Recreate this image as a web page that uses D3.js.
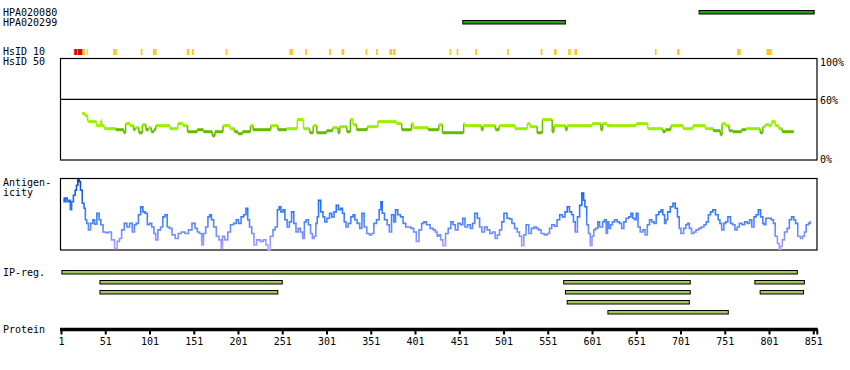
<!DOCTYPE html>
<html><head><meta charset="utf-8">
<script src="https://cdn.jsdelivr.net/npm/d3@7"></script>
<style>body{margin:0;background:#fff}svg{display:block}text{font-family:"DejaVu Sans Mono",monospace;font-size:10px;fill:#000}</style>
</head><body>
<script>
// ---------- DATA ----------
const proteinLength = 855;
const tickLabels = [1,51,101,151,201,251,301,351,401,451,501,551,601,651,701,751,801,851];
const antibodies = ["HPA020080","HPA020299"];
const antibodyRanges = [[722,852],[455,571]];
const hsYellow = [[15,16],[19,20],[25,28],[30,31],[60,64],[91,93],[105,109],[143,146],[149,151],[187,189],[259,263],[277,279],[304,306],[318,321],[345,347],[357,359],[372,375],[376,379],[440,442],[448,450],[469,471],[505,507],[543,545],[558,561],[574,577],[581,584],[672,674],[697,700],[765,769],[798,804]];
const hsRed = [[16,19],[20,25]];
const identityPos = [25,28,31,32,41,46,47,50,63,72,74,79,83,85,89,93,97,100,103,106,108,124,133,139,144,155,162,172,175,184,192,197,201,206,215,218,238,246,256,268,275,282,286,290,301,308,314,316,324,328,331,335,347,359,380,386,397,399,416,428,432,456,457,476,478,492,496,514,528,531,539,545,556,558,571,573,601,611,613,618,651,664,681,684,690,704,715,729,738,746,748,752,756,760,770,775,791,794,797,801,804,808,812,816];
const identityVal = [46,44,39,38,34,39,34,31,30,27,36,34,30,32,27,35,30,32,28,30,34,31,36,34,28,30,28,24,28,34,31,28,26,28,34,30,34,30,31,40,31,27,34,27,29,32,27,33,28,40,35,30,33,38,36,30,36,32,30,35,27,36,34,30,34,30,34,31,36,33,27,40,28,34,30,34,36,30,36,34,36,31,28,30,34,31,34,31,29,25,36,34,29,28,30,31,27,33,35,34,38,34,31,28];
const identityEnd = 829;
const antiPos = [4,5,7,9,11,12,14,16,18,19,21,22,24,26,28,29,31,33,36,38,40,43,45,47,50,53,56,60,63,66,68,71,74,77,80,83,85,87,90,92,95,97,100,102,105,107,109,112,115,117,120,122,125,128,132,135,139,143,147,151,154,156,159,161,163,166,168,170,172,175,178,181,183,184,188,191,194,198,200,203,206,209,211,213,215,218,220,224,228,231,234,236,239,242,244,247,248,251,253,255,258,260,263,265,268,270,
273,275,277,279,282,284,286,288,290,291,293,296,298,300,303,306,308,311,313,316,318,320,322,324,327,330,332,334,337,340,342,345,348,351,353,356,359,362,363,365,368,371,373,376,378,380,383,386,389,392,395,398,401,404,407,410,412,416,420,423,425,427,429,431,434,437,440,443,445,448,451,454,456,459,462,465,467,470,473,475,478,481,484,487,490,493,495,498,500,503,507,509,512,515,518,520,523,525,528,531,534,537,539,542,545,549,552,554,557,560,563,566,569,572,574,577,579,581,583,586,588,591,592,594,596,598,600,602,604,606,609,
610,612,614,616,618,619,621,623,625,628,631,633,636,638,641,644,646,648,650,652,654,657,660,662,665,667,670,672,675,678,680,682,684,685,688,691,694,696,699,700,703,706,708,710,712,715,717,720,723,726,729,731,734,736,739,742,745,746,749,751,753,756,759,761,764,766,769,772,775,778,780,783,785,788,790,793,795,796,799,802,805,807,809,812,813,815,817,820,823,825,828,830,832,835,838,840,842,844,847,848];
const antiVal = [72,67,72,67,69,56,67,76,83,90,98,95,83,65,58,42,37,28,37,42,36,51,42,35,25,24,25,14,2,12,16,28,37,32,37,25,35,37,49,60,53,51,35,37,32,23,14,28,32,46,49,32,30,21,16,23,25,23,28,37,30,25,23,7,23,32,46,49,42,32,19,14,2,19,14,25,35,37,42,37,46,49,58,42,32,23,7,14,12,14,7,0,19,28,32,56,60,53,56,42,32,39,53,37,25,30,
25,16,39,42,35,23,16,19,37,46,69,53,46,39,44,51,46,53,62,56,58,51,39,32,37,46,49,42,37,30,51,32,23,21,23,37,42,56,67,51,42,35,25,49,39,56,49,46,37,32,32,30,25,12,28,37,39,35,30,28,25,19,21,14,6,23,30,39,35,28,37,35,44,32,35,30,37,51,44,32,25,32,28,23,25,16,21,28,39,51,44,43,37,30,25,19,6,21,35,23,30,32,30,28,23,21,23,30,35,33,42,49,46,53,60,53,49,39,25,46,62,79,69,60,35,23,6,19,28,30,39,32,
32,39,42,23,39,30,35,39,42,39,37,30,39,44,46,51,44,42,51,32,25,28,21,35,42,39,37,49,53,56,49,37,42,53,60,65,58,46,30,23,30,35,37,30,23,25,28,30,32,35,39,49,53,56,49,42,37,28,37,39,46,37,35,28,32,37,35,39,37,42,32,46,49,56,46,37,35,44,44,42,37,19,9,1,5,14,25,30,42,46,42,37,19,16,19,25,35,37,39,44];
const ipRows = [
  [[2,833]],
  [[45,251],[569,712],[785,841]],
  [[45,246],[571,712],[791,840]],
  [[573,711]],
  [[619,755]]
];

// ---------- CHART ----------
const W = 850, H = 370;
const svg = d3.select("body").append("svg").attr("width", W).attr("height", H);
const x = d3.scaleLinear().domain([1, proteinLength]).range([61, 816.8]);
const yId = d3.scaleLinear().domain([0, 100]).range([160, 59]);
const yAg = d3.scaleLinear().domain([0, 100]).range([250, 178]);

// labels
const lab = (t, px, py, anchor) => svg.append("text").attr("x", px).attr("y", py).attr("text-anchor", anchor || "start").text(t);
antibodies.forEach((a, i) => lab(a, 3, 16 + i * 10));
lab("HsID 10", 3, 55); lab("HsID 50", 3, 65);
lab("Antigen-", 3, 186); lab("icity", 3, 196);
lab("IP-reg.", 3, 276); lab("Protein", 3, 333);
lab("100%", 820, 66); lab("60%", 820, 104); lab("0%", 820, 163);

// antibody bars
svg.selectAll("rect.ab").data(antibodyRanges).join("rect").attr("class", "ab")
  .attr("x", d => x(d[0])).attr("width", d => x(d[1]) - x(d[0]))
  .attr("y", (d, i) => 10.5 + i * 10).attr("height", 3.5)
  .attr("fill", "#22a010").attr("stroke", "#000").attr("stroke-width", 1);

// HsID 10 segments
svg.selectAll("rect.hy").data(hsYellow).join("rect").attr("class", "hy")
  .attr("x", d => x(d[0])).attr("width", d => Math.max(1, x(d[1]) - x(d[0])))
  .attr("y", 49).attr("height", 6).attr("fill", "#ffc820");
svg.selectAll("rect.hr").data(hsRed).join("rect").attr("class", "hr")
  .attr("x", d => x(d[0])).attr("width", d => x(d[1]) - x(d[0]))
  .attr("y", 49).attr("height", 6).attr("fill", "#e00000");

// identity box
const boxL = 60.5, boxR = 817;
svg.append("rect").attr("x", boxL).attr("y", 58.5).attr("width", boxR - boxL).attr("height", 101.5)
  .attr("fill", "none").attr("stroke", "#000").attr("stroke-width", 1.2);
svg.append("line").attr("x1", boxL).attr("x2", boxR).attr("y1", yId(60)).attr("y2", yId(60))
  .attr("stroke", "#000").attr("stroke-width", 1.2);

// identity line (step)
const idColor = v => v < 30.5 ? "#66bb00" : "#99f000";
const stepLine = d3.line().x(d => x(d[0])).y(d => yId(d[1])).curve(d3.curveStepAfter);
identityPos.forEach((p, i) => {
  const nextP = i < identityPos.length - 1 ? identityPos[i + 1] : identityEnd;
  const pts = [[p, identityVal[i]], [nextP, identityVal[i]]];
  svg.append("path").attr("d", stepLine(pts)).attr("fill", "none")
    .attr("stroke", idColor(identityVal[i])).attr("stroke-width", 3);
  if (i < identityPos.length - 1) {
    svg.append("path").attr("d", d3.line()([[x(nextP), yId(identityVal[i])], [x(nextP), yId(identityVal[i + 1])]]))
      .attr("stroke", idColor(Math.min(identityVal[i], identityVal[i + 1]))).attr("stroke-width", 1.5);
  }
});

// antigenicity box
svg.append("rect").attr("x", boxL).attr("y", 178.5).attr("width", boxR - boxL).attr("height", 71.5)
  .attr("fill", "none").attr("stroke", "#000").attr("stroke-width", 1.2);
const defs = svg.append("defs");
const grad = defs.append("linearGradient").attr("id", "ag").attr("gradientUnits", "userSpaceOnUse")
  .attr("x1", 0).attr("x2", 0).attr("y1", yAg(100)).attr("y2", yAg(0));
[["0%", "#0a44c0"], ["30%", "#1a6cf8"], ["55%", "#3f80ff"], ["80%", "#7a90ff"], ["100%", "#b4a4ff"]]
  .forEach(s => grad.append("stop").attr("offset", s[0]).attr("stop-color", s[1]));
const agData = antiPos.map((p, i) => [p, antiVal[i]]);
svg.append("path").datum(agData)
  .attr("d", d3.line().x(d => x(d[0])).y(d => yAg(d[1])).curve(d3.curveStep))
  .attr("fill", "none").attr("stroke", "url(#ag)").attr("stroke-width", 1.6);

// IP-reg bars
ipRows.forEach((row, ri) => {
  svg.selectAll("rect.ip" + ri).data(row).join("rect").attr("class", "ip" + ri)
    .attr("x", d => x(d[0])).attr("width", d => x(d[1]) - x(d[0]))
    .attr("y", 270.5 + ri * 10).attr("height", 3.5)
    .attr("fill", "#a2c85c").attr("stroke", "#000").attr("stroke-width", 1);
});

// protein axis
const axisG = svg.append("g").attr("transform", "translate(0,329.5)");
axisG.append("line").attr("x1", x(1) - 1).attr("x2", x(proteinLength) + 1).attr("y1", 0).attr("y2", 0)
  .attr("stroke", "#000").attr("stroke-width", 3.5);
const axis = d3.axisBottom(x).tickValues(tickLabels.concat([proteinLength])).tickSize(5).tickPadding(4)
  .tickFormat(d => tickLabels.includes(d) ? d : "");
const ag2 = svg.append("g").attr("transform", "translate(0,329.5)").call(axis);
ag2.select(".domain").remove();
ag2.selectAll(".tick line").attr("stroke", "#000").attr("stroke-width", 2);
ag2.selectAll(".tick text").attr("font-family", "DejaVu Sans Mono").attr("font-size", 10).attr("fill", "#000").attr("dy", "0.6em");
</script>
</body></html>
